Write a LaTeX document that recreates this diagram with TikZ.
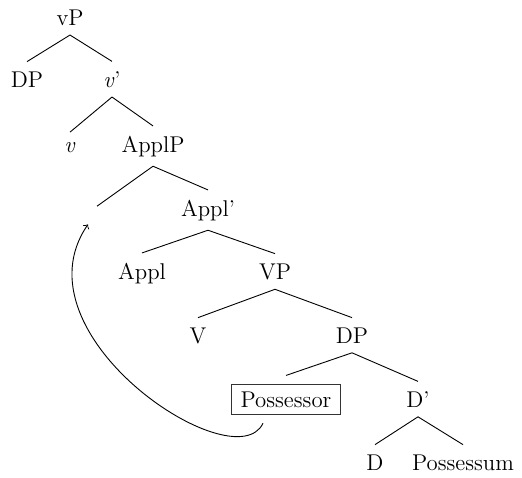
\documentclass[tikz,border=0pt]{standalone}
\usepackage{fontspec}
\begin{document}
\begin{tikzpicture}[x=0.5pt,y=-0.5pt,
  every node/.style={font=\fontsize{11.4}{13}\selectfont},
  lbl/.style={anchor=base,inner xsep=0pt,inner ysep=4.7pt},
  boxed/.style={anchor=base,draw=black!80,line width=0.4pt,inner xsep=4.5pt,inner ysep=3.5pt,outer ysep=4.5pt,outer xsep=0pt},
  branch/.style={line width=0.45pt},
  move/.style={line width=0.45pt,->}]
\useasboundingbox (0,0) rectangle (522,477);
\node[lbl] (vP) at (70,25) {vP};
\node[lbl] (DPa) at (27,87) {DP};
\node[lbl] (vbar) at (112,87) {\textit{v}'};
\node[lbl] (v) at (70,152) {\textit{v}};
\node[lbl] (ApplP) at (153,152) {ApplP};
\node[lbl] (e) at (97,216) {};
\node[lbl] (Applbar) at (208,216) {Appl'};
\node[lbl] (Appl) at (142,279) {Appl};
\node[lbl] (VP) at (275,279) {VP};
\node[lbl] (V) at (198,343) {V};
\node[lbl] (DPb) at (352,343) {DP};
\node[boxed] (poss) at (286,407) {Possessor};
\node[lbl] (Dbar) at (418,407) {D'};
\node[lbl] (D) at (375,470) {D};
\node[lbl] (Possessum) at (463,470) {Possessum};
\draw[branch] (vP.south) -- (DPa.north);
\draw[branch] (vP.south) -- (vbar.north);
\draw[branch] (vbar.south) -- (v.north);
\draw[branch] (vbar.south) -- (ApplP.north);
\draw[branch] (ApplP.south) -- (e.north);
\draw[branch] (ApplP.south) -- (Applbar.north);
\draw[branch] (Applbar.south) -- (Appl.north);
\draw[branch] (Applbar.south) -- (VP.north);
\draw[branch] (VP.south) -- (V.north);
\draw[branch] (VP.south) -- (DPb.north);
\draw[branch] (DPb.south) -- (poss.north);
\draw[branch] (DPb.south) -- (Dbar.north);
\draw[branch] (Dbar.south) -- (D.north);
\draw[branch] (Dbar.south) -- (Possessum.north);
\draw[move] ([xshift=-11.5pt]poss.south) .. controls (235,482) and (12,335) .. ([xshift=-4.5pt,yshift=0.7pt]e.south);
\end{tikzpicture}
\end{document}
